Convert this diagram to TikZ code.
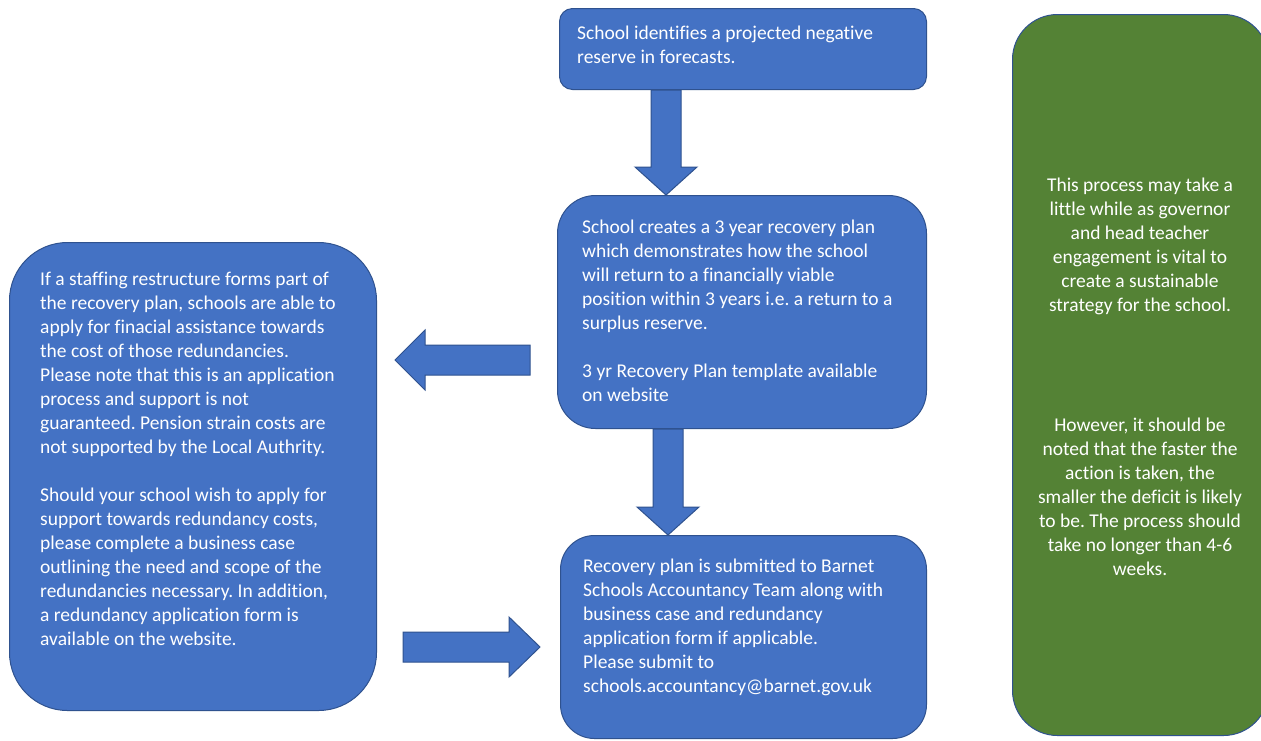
\documentclass[tikz,border=0pt]{standalone}
\usepackage{fontspec}
\setmainfont[Ligatures=CommonOff]{Carlito}
\frenchspacing
\usetikzlibrary{calc}
\definecolor{boxblue}{HTML}{4472C4}
\definecolor{boxedge}{HTML}{2F528F}
\definecolor{boxgreen}{HTML}{548235}
\tikzset{
  bluebox/.style={draw=boxedge, fill=boxblue, line width=1pt, anchor=north west, inner sep=0pt},
  greenbox/.style={draw=boxedge, fill=boxgreen, line width=1pt, anchor=north west, inner sep=0pt},
  boxtext/.style={text=white, inner sep=0pt, align=left, anchor=north west, font=\fontsize{19.5}{24}\selectfont},
  boxtextc/.style={text=white, inner sep=0pt, align=center, anchor=north, font=\fontsize{19.5}{24}\selectfont},
  blockarrowstyle/.style={draw=boxedge, fill=boxblue, line width=1pt, line join=miter}
}
\newcommand\blockarrow[5]{%
  \coordinate (hb) at ($(#2)!#5!(#1)$);
  \draw[blockarrowstyle] ($(#1)!#3!90:(#2)$) -- ($(hb)!#3!90:(#2)$) -- ($(hb)!#4!90:(#2)$) -- (#2)
    -- ($(hb)!#4!-90:(#2)$) -- ($(hb)!#3!-90:(#2)$) -- ($(#1)!#3!-90:(#2)$) -- cycle;}
\begin{document}
\begin{tikzpicture}[x=1pt,y=-1pt]
\useasboundingbox (0,0) rectangle (1261,740);
\fill[white] (0,0) rectangle (1261,740);
\clip (0,0) rectangle (1261,740);
% boxes
\node[bluebox, rounded corners=13pt, minimum width=367pt, minimum height=81pt] (b1) at (559,8) {};
\node[bluebox, rounded corners=38pt, minimum width=369pt, minimum height=233pt] (b2) at (557,195) {};
\node[bluebox, rounded corners=34pt, minimum width=366pt, minimum height=203pt] (b3) at (560,535) {};
\node[bluebox, rounded corners=58pt, minimum width=367pt, minimum height=468pt] (bl) at (9,242) {};
\node[greenbox, rounded corners=45pt, minimum width=256pt, minimum height=721pt] (bg) at (1012,14) {};
% texts
\node[boxtext] (t1) at (577,22.2) {\strut School identifies a projected negative\\reserve in forecasts.};
\node[boxtext] (t2) at (582,216.2) {\strut School creates a 3 year recovery plan\\which demonstrates how the school\\will return to a financially viable\\position within 3 years i.e. a return to a\\surplus reserve.\\[24pt]3 yr Recovery Plan template available\\on website};
\node[boxtext] (t3) at (583,555.2) {\strut Recovery plan is submitted to Barnet\\Schools Accountancy Team along with\\business case and redundancy\\application form if applicable.\\Please submit to\\schools.accountancy@barnet.gov.uk};
\node[boxtext] (tl) at (40,268.2) {\strut If a staffing restructure forms part of\\the recovery plan, schools are able to\\apply for finacial assistance towards\\the cost of those redundancies.\\Please note that this is an application\\process and support is not\\guaranteed. Pension strain costs are\\not supported by the Local Authrity.\\[24pt]Should your school wish to apply for\\support towards redundancy costs,\\please complete a business case\\outlining the need and scope of the\\redundancies necessary. In addition,\\a redundancy application form is\\available on the website.};
\node[boxtextc] (tg) at (1140,174.2) {\strut This process may take a\\little while as governor\\and head teacher\\engagement is vital to\\create a sustainable\\strategy for the school.\\[96pt]However, it should be\\noted that the faster the\\action is taken, the\\smaller the deficit is likely\\to be. The process should\\take no longer than 4-6\\weeks.};
% arrows
\coordinate (a1s) at (666,0 |- b1.south);
\coordinate (a1e) at (666,0 |- b2.north);
\coordinate (a2s) at (668,0 |- b2.south);
\coordinate (a2e) at (668,0 |- b3.north);
\coordinate (a3s) at (530,360);
\coordinate (a3e) at (395,360);
\coordinate (a4s) at (403,647);
\coordinate (a4e) at (540,647);
\blockarrow{a1s}{a1e}{15pt}{31pt}{28pt}
\blockarrow{a2s}{a2e}{15pt}{31pt}{28pt}
\blockarrow{a3s}{a3e}{15pt}{30pt}{30pt}
\blockarrow{a4s}{a4e}{15pt}{30pt}{31pt}
\end{tikzpicture}
\end{document}
